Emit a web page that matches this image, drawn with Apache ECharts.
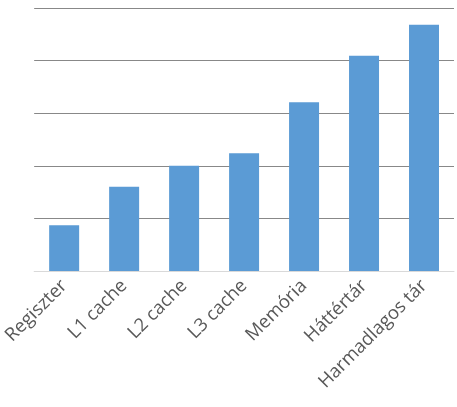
<!DOCTYPE html>
<html>
<head>
<meta charset="utf-8">
<script src="https://cdn.jsdelivr.net/npm/echarts@6/dist/echarts.min.js"></script>
<style>html,body{margin:0;padding:0;background:#fff}#chart{width:457px;height:407px}</style>
</head>
<body>
<div id="chart"></div>
<script>
const categories = ['Regiszter', 'L1 cache', 'L2 cache', 'L3 cache', 'Memória', 'Háttértár', 'Harmadlagos tár'];
const values = [0.87, 1.6, 2.0, 2.24, 3.21, 4.09, 4.68];

const chart = echarts.init(document.getElementById('chart'));
chart.setOption({
  animation: false,
  grid: { left: 31, right: 3, top: 8, bottom: 136 },
  xAxis: {
    type: 'category',
    data: categories,
    axisTick: { show: false },
    axisLine: { lineStyle: { color: '#d9d9d9' } },
    axisLabel: {
      rotate: 45,
      interval: 0,
      color: '#595959',
      fontSize: 18.5,
      fontFamily: 'Open Sans',
      margin: 12
    }
  },
  yAxis: {
    type: 'value',
    min: 0,
    max: 5,
    interval: 1,
    axisLabel: { show: false },
    axisLine: { show: false },
    axisTick: { show: false },
    splitLine: { lineStyle: { color: '#888888' } }
  },
  series: [{
    type: 'bar',
    data: values,
    barWidth: '50%',
    itemStyle: { color: '#5b9bd5' }
  }]
});
</script>
</body>
</html>
